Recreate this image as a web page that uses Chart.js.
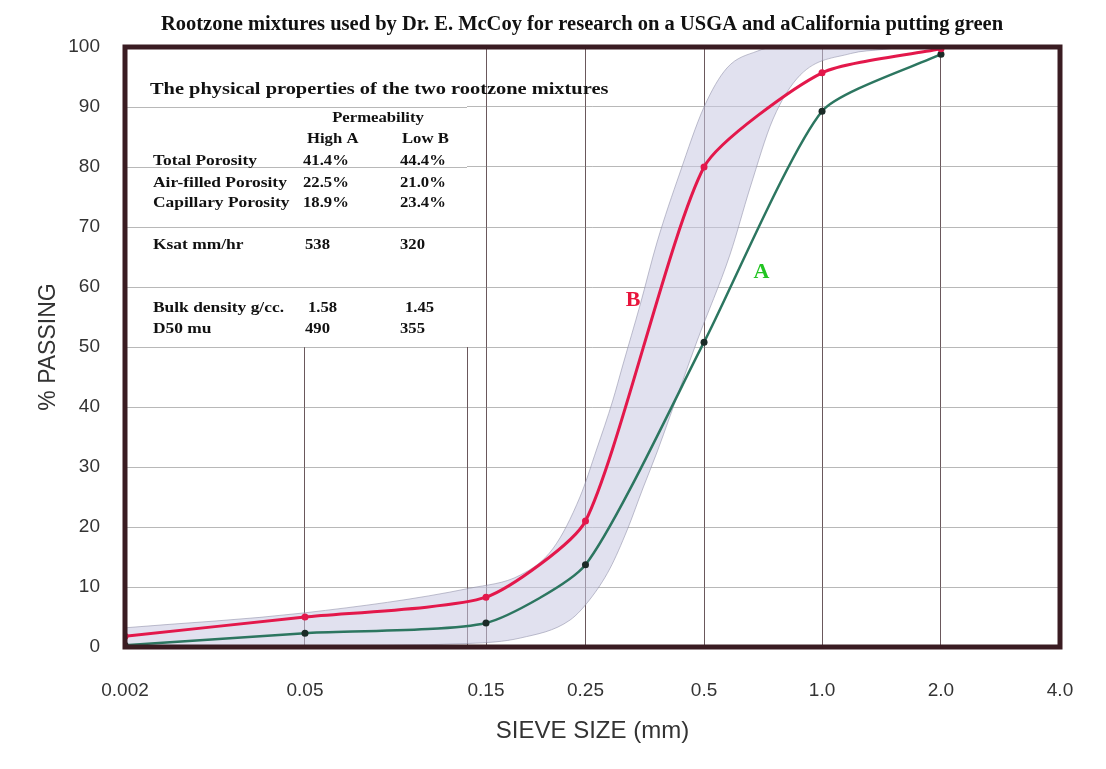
<!DOCTYPE html>
<html>
<head>
<meta charset="utf-8">
<script src="https://cdn.jsdelivr.net/npm/chart.js@4.4.1/dist/chart.umd.min.js"></script>
<style>
  html, body { margin: 0; padding: 0; background: #fff; }
  #chart { display: block; }
</style>
</head>
<body>
<canvas id="chart" width="1106" height="769"></canvas>
<script>
// sieve sizes on the x axis (mm) and their printed labels
const tickSizes = [0.002, 0.05, 0.15, 0.25, 0.5, 1.0, 2.0, 4.0];
const tickLabels = ['0.002', '0.05', '0.15', '0.25', '0.5', '1.0', '2.0', '4.0'];

// particle size curves, % passing
const sieveSizes = [0.002, 0.05, 0.15, 0.25, 0.5, 1.0, 2.0];
const passingA = [0.3, 2.3, 4.0, 13.7, 50.8, 89.3, 98.8];
const passingB = [1.8, 5.0, 8.3, 21.0, 80.0, 95.7, 99.7];

// shaded recommendation band (upper and lower edge)
const bandUpperSizes = [0.002, 0.05, 0.136, 0.179, 0.212, 0.243, 0.267, 0.293, 0.311, 0.344, 0.38, 0.434, 0.5, 0.572, 0.683, 0.759, 1.62];
const bandUpperPct = [3.2, 5.7, 9.8, 12.0, 16.5, 25, 33, 41, 47, 57, 67.5, 79, 90, 96.5, 99.3, 100, 100];
const bandLowerSizes = [0.002, 0.05, 0.136, 0.179, 0.231, 0.257, 0.288, 0.319, 0.35, 0.38, 0.41, 0.442, 0.48, 0.583, 0.655, 0.75, 0.879, 1.18, 1.43, 1.62];
const bandLowerPct = [0, 0.2, 0.6, 1.5, 4.5, 8, 13, 19.5, 26.5, 32.5, 38.5, 44.5, 51, 65.5, 76.5, 88, 95.3, 98.9, 99.6, 100];

const chartTitle = 'Rootzone mixtures used by Dr. E. McCoy for research on a USGA and aCalifornia putting green';

// properties table
const tableTitle = 'The physical properties of the two rootzone mixtures';
const tableHead = ['Permeability', 'High A', 'Low B'];
const tableRows = [
  ['Total Porosity', '41.4%', '44.4%'],
  ['Air-filled Porosity', '22.5%', '21.0%'],
  ['Capillary Porosity', '18.9%', '23.4%'],
  ['Ksat mm/hr', '538', '320'],
  ['Bulk density g/cc.', '1.58', '1.45'],
  ['D50 mu', '490', '355']
];

// curve names placed next to the lines (size mm, % passing)
const curveNames = ['B', 'A'];
const curveNameSizes = [0.33, 0.70];
const curveNamePct = [57.7, 62.5];

// the printed graph paper is not a clean log scale: each label sits at its own spot
const paperStops = [0, 0.1925, 0.3861, 0.4925, 0.6193, 0.7455, 0.8727, 1];

function paperX(size) {
  for (let i = 0; i < tickSizes.length - 1; i++) {
    const a = tickSizes[i], b = tickSizes[i + 1];
    if (size <= b || i === tickSizes.length - 2) {
      const t = Math.log(size / a) / Math.log(b / a);
      return paperStops[i] + t * (paperStops[i + 1] - paperStops[i]);
    }
  }
  return 1;
}

function pts(sizes, vals) {
  return sizes.map((s, i) => ({ x: paperX(s), y: vals[i] }));
}

const RED = '#e3184b';
const GREEN = '#2c7660';
const SERIF = "'Liberation Serif', 'DejaVu Serif', serif";

// the scanned table type is wide, so stretch it a little
function wideText(ctx, txt, x, y, align, sx) {
  ctx.save();
  ctx.translate(x, y);
  ctx.scale(sx, 1);
  ctx.textAlign = align;
  ctx.fillText(txt, 0, 0);
  ctx.restore();
}

const paperPlugin = {
  id: 'paper',
  beforeDatasetsDraw(chart) {
    const { ctx, chartArea: ca, scales: { y } } = chart;
    // white table box hides the vertical rules in the upper left
    const boxRight = ca.left + 342;
    const boxBottom = y.getPixelForValue(50);
    ctx.save();
    ctx.fillStyle = '#fff';
    ctx.fillRect(ca.left, ca.top, boxRight - ca.left, boxBottom - ca.top);
    ctx.strokeStyle = 'rgba(125,125,125,0.55)';
    ctx.lineWidth = 1;
    for (let v = 60; v <= 90; v += 10) {
      const py = Math.round(y.getPixelForValue(v)) + 0.5;
      ctx.beginPath();
      ctx.moveTo(ca.left, py);
      ctx.lineTo(boxRight, py);
      ctx.stroke();
    }
    ctx.strokeStyle = '#6a585c';
    ctx.beginPath();
    ctx.moveTo(boxRight + 0.5, boxBottom);
    ctx.lineTo(boxRight + 0.5, ca.bottom);
    ctx.stroke();
    ctx.restore();
  },
  afterDatasetsDraw(chart) {
    const { ctx, chartArea: ca, scales: { x, y } } = chart;
    ctx.save();
    // frame
    ctx.strokeStyle = '#3a1c22';
    ctx.lineWidth = 5;
    ctx.strokeRect(ca.left, ca.top, ca.right - ca.left, ca.bottom - ca.top);

    // title, a bit right of the canvas centre as in the scan
    ctx.fillStyle = '#111';
    ctx.textBaseline = 'middle';
    ctx.textAlign = 'center';
    ctx.font = 'bold 20.5px ' + SERIF;
    ctx.fillText(chartTitle, ca.left + 457, 25);

    // table
    const L = ca.left, T = ca.top;
    ctx.font = 'bold 17px ' + SERIF;
    wideText(ctx, tableTitle, L + 25, T + 43, 'left', 1.2);
    ctx.font = 'bold 14.5px ' + SERIF;
    wideText(ctx, tableHead[0], L + 253, T + 71, 'center', 1.15);
    wideText(ctx, tableHead[1], L + 182, T + 92, 'left', 1.15);
    wideText(ctx, tableHead[2], L + 277, T + 92, 'left', 1.15);
    const rowY = [114, 136, 156, 198, 261, 282];
    const colA = [178, 178, 178, 180, 183, 180];
    const colB = [275, 275, 275, 275, 280, 275];
    tableRows.forEach((r, i) => {
      wideText(ctx, r[0], L + 28, T + rowY[i], 'left', 1.2);
      wideText(ctx, r[1], L + colA[i], T + rowY[i], 'left', 1.15);
      wideText(ctx, r[2], L + colB[i], T + rowY[i], 'left', 1.15);
    });

    // curve names
    ctx.font = 'bold 22px ' + SERIF;
    ctx.textAlign = 'center';
    const nameColors = ['#e8143c', '#22c422'];
    curveNames.forEach((n, i) => {
      ctx.fillStyle = nameColors[i];
      ctx.fillText(n, x.getPixelForValue(paperX(curveNameSizes[i])), y.getPixelForValue(curveNamePct[i]));
    });
    ctx.restore();
  }
};

Chart.defaults.font.family = "'Liberation Sans', Arial, sans-serif";
Chart.defaults.color = '#333';

new Chart(document.getElementById('chart').getContext('2d'), {
  type: 'line',
  data: {
    datasets: [
      {
        label: 'B',
        data: pts(sieveSizes, passingB),
        borderColor: RED,
        backgroundColor: RED,
        borderWidth: 3,
        pointRadius: 3.5,
        pointBackgroundColor: RED,
        pointBorderWidth: 0,
        tension: 0.2,
        fill: false,
        order: 1
      },
      {
        label: 'A',
        data: pts(sieveSizes, passingA),
        borderColor: GREEN,
        backgroundColor: GREEN,
        borderWidth: 2.5,
        pointRadius: 3.5,
        pointBackgroundColor: '#1b2b27',
        pointBorderWidth: 0,
        tension: 0.2,
        fill: false,
        order: 2
      },
      {
        label: 'band upper',
        data: pts(bandUpperSizes, bandUpperPct),
        borderColor: 'rgba(140,140,165,0.55)',
        borderWidth: 1,
        pointRadius: 0,
        cubicInterpolationMode: 'monotone',
        fill: false,
        order: 10
      },
      {
        label: 'band lower',
        data: pts(bandLowerSizes, bandLowerPct),
        borderColor: 'rgba(140,140,165,0.55)',
        backgroundColor: 'rgba(200,200,226,0.55)',
        borderWidth: 1,
        pointRadius: 0,
        cubicInterpolationMode: 'monotone',
        fill: '-1',
        order: 11
      }
    ]
  },
  options: {
    responsive: false,
    animation: false,
    devicePixelRatio: 1,
    layout: { padding: { left: 28, right: 46, top: 47, bottom: 0 } },
    plugins: {
      legend: { display: false },
      tooltip: { enabled: false },
      title: { display: false }
    },
    scales: {
      x: {
        type: 'linear',
        min: 0,
        max: 1,
        afterBuildTicks: (scale) => { scale.ticks = paperStops.map(v => ({ value: v })); },
        afterFit: (scale) => { scale.height = 122; },
        ticks: {
          autoSkip: false,
          maxRotation: 0,
          padding: 32,
          font: { size: 19 },
          color: '#333',
          callback: (v, i) => tickLabels[i]
        },
        grid: { color: '#6a585c', lineWidth: 1, drawTicks: false },
        border: { display: false },
        title: {
          display: true,
          text: 'SIEVE SIZE (mm)',
          color: '#333',
          font: { size: 24 },
          padding: { top: 0, bottom: 23 }
        }
      },
      y: {
        min: 0,
        max: 100,
        afterFit: (scale) => { scale.width = 97; },
        ticks: { stepSize: 10, padding: 25, font: { size: 19 }, color: '#333' },
        grid: { color: 'rgba(125,125,125,0.55)', lineWidth: 1, drawTicks: false },
        border: { display: false },
        title: {
          display: true,
          text: '% PASSING',
          color: '#333',
          font: { size: 23 },
          padding: { top: 7, bottom: 0 }
        }
      }
    }
  },
  plugins: [paperPlugin]
});
</script>
</body>
</html>
